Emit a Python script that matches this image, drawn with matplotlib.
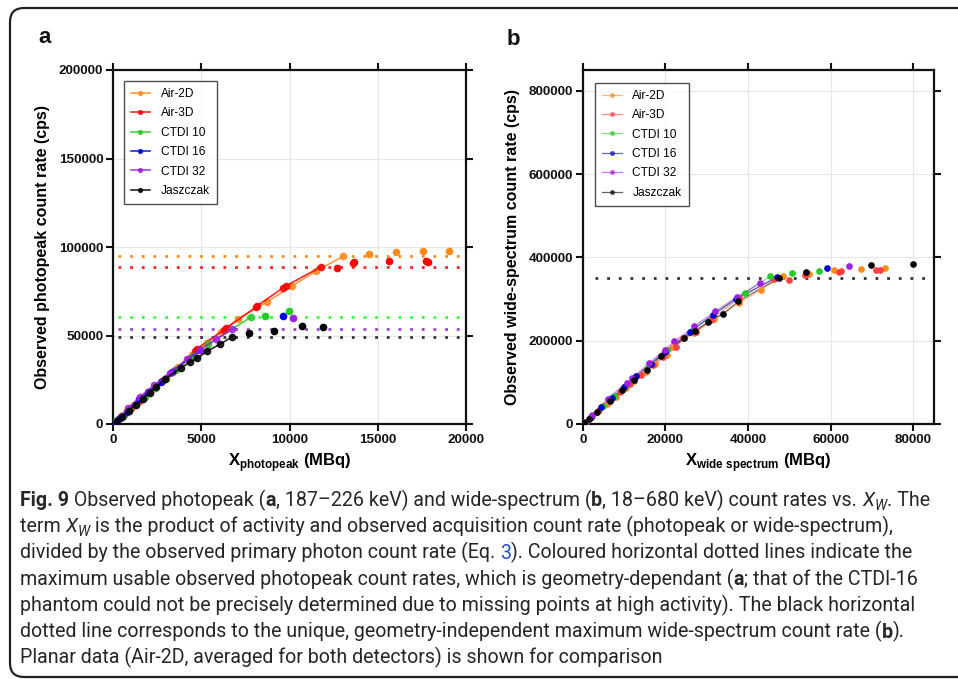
import numpy as np
import matplotlib
matplotlib.use("Agg")
import matplotlib.pyplot as plt
from matplotlib import font_manager as fm
from matplotlib.patches import FancyBboxPatch
from matplotlib.transforms import IdentityTransform
from matplotlib.lines import Line2D

# ---------------- data ----------------
series_names = ["Air-2D", "Air-3D", "CTDI 10", "CTDI 16", "CTDI 32", "Jaszczak"]

# panel a: photopeak (connected points, then saturated points)
a_air2d_x = [90, 250, 480, 800, 1200, 1700, 2300, 3000, 3700, 4500, 5300, 6100, 7100, 8700, 10150, 11500, 13050]
a_air2d_y = [800, 2200, 4250, 7100, 10600, 15000, 20200, 26200, 32200, 38900, 45500, 51800, 59500, 68900, 78000, 86400, 94750]
a_air2d_sx = [14500, 16050, 17580, 19020]
a_air2d_sy = [95900, 97200, 97700, 97500]

a_air3d_x = [150, 500, 1000, 1500, 2100, 2800, 3500, 4630, 4740, 6290, 6400, 8085, 8180, 9650, 9800, 11770]
a_air3d_y = [1300, 4400, 8800, 13200, 18400, 24400, 30400, 41200, 42400, 53300, 54100, 65900, 66900, 77000, 78000, 88700]
a_air3d_sx = [12690, 13600, 13650, 15620, 17740, 17870]
a_air3d_sy = [87960, 90700, 91700, 91900, 92300, 91500]

a_ctdi10_x = [100, 300, 600, 900, 1300, 1800, 2400, 3000, 3600, 4550, 5400, 7800]
a_ctdi10_y = [850, 2600, 5200, 7800, 11200, 15500, 20600, 25700, 30900, 38400, 45000, 60300]
a_ctdi10_sx = [8610, 9955]
a_ctdi10_sy = [61000, 63850]

a_ctdi16_x = [150, 400, 800, 1490, 2000, 2700, 3325, 4930]
a_ctdi16_y = [1300, 3500, 7000, 13950, 18000, 23500, 29500, 41800]
a_ctdi16_sx = [9615]
a_ctdi16_sy = [61200]

a_ctdi32_x = [200, 500, 867, 1530, 2340, 3230, 4210, 4930, 5836, 6760]
a_ctdi32_y = [1800, 4500, 9040, 15440, 21860, 29000, 36550, 42000, 47850, 53500]
a_ctdi32_sx = [10215]
a_ctdi32_sy = [60060]

a_jas_x = [200, 500, 900, 1300, 1700, 2100, 2419, 2946, 3853, 4363, 4777, 5310, 6063, 6760]
a_jas_y = [1700, 4200, 7600, 11000, 14300, 17700, 20720, 25250, 31810, 34860, 37120, 41070, 45030, 49330]
a_jas_sx = [7706, 9105, 10690, 11920]
a_jas_sy = [51590, 52720, 55370, 54980]

a_max_rates = [95000, 88700, 60500, 53500, 49200]   # Air-2D, Air-3D, CTDI10, CTDI32, Jaszczak
a_max_names = ["Air-2D", "Air-3D", "CTDI 10", "CTDI 32", "Jaszczak"]

# panel b: wide spectrum
b_air2d_x = [600, 1800, 3500, 5800, 8000, 10500, 12500, 15300, 17500, 20300, 21930, 27000, 31850, 37800, 43100, 48500]
b_air2d_y = [5000, 15000, 29000, 48000, 66000, 86500, 103000, 125500, 143000, 165500, 184600, 218000, 252000, 290000, 322000, 355000]
b_air2d_sx = [54840, 60890, 67270, 73080]
b_air2d_sy = [360000, 369000, 372000, 374000]

b_air3d_x = [700, 2000, 4000, 6500, 9000, 11500, 14000, 17000, 19500, 22500, 24200, 27500, 31000, 37900, 46200]
b_air3d_y = [6000, 17200, 34000, 55000, 76000, 96500, 117000, 141000, 161000, 184000, 205300, 222000, 250000, 302500, 349000]
b_air3d_sx = [50000, 53800, 54000, 62000, 62500, 71000, 72000]
b_air3d_sy = [346600, 358000, 362000, 366000, 366500, 369000, 369000]

b_ctdi10_x = [500, 2200, 4800, 7500, 10300, 13000, 16000, 20500, 26500, 31610, 39280, 45330]
b_ctdi10_y = [4500, 19500, 43000, 66500, 91000, 114500, 140500, 178000, 224000, 262400, 314600, 354600]
b_ctdi10_sx = [50720, 57190]
b_ctdi10_sy = [363400, 367000]

b_ctdi16_x = [400, 2000, 4500, 7000, 10000, 13000, 16500, 20000, 26000, 31500, 37000, 47000]
b_ctdi16_y = [3600, 18000, 40500, 62500, 89000, 115000, 145000, 174000, 222000, 262000, 300000, 352000]
b_ctdi16_sx = [59200]
b_ctdi16_sy = [375000]

b_ctdi32_x = [600, 2300, 6050, 10650, 12000, 16120, 19800, 22170, 27000, 32090, 37270, 42900]
b_ctdi32_y = [5500, 21500, 61000, 99400, 111000, 146100, 178000, 198100, 234200, 270300, 305000, 338600]
b_ctdi32_sx = [64520]
b_ctdi32_sy = [379000]

b_jas_x = [300, 1500, 3500, 6500, 9500, 12500, 15500, 18950, 24500, 27180, 30400, 34030, 37660, 47500]
b_jas_y = [2600, 13000, 30000, 55500, 80500, 105500, 130000, 163000, 206000, 223900, 245000, 264800, 294400, 350700]
b_jas_sx = [54000, 69850, 80000]
b_jas_sy = [364000, 382000, 385000]

b_max_rate = 350000

a_xticks = [0, 5000, 10000, 15000, 20000]
a_yticks = [0, 50000, 100000, 150000, 200000]
b_xticks = [0, 20000, 40000, 60000, 80000]
b_yticks = [0, 200000, 400000, 600000, 800000]

# ---------------- fonts ----------------
def has_font(name):
    try:
        fm.findfont(fm.FontProperties(family=name), fallback_to_default=False)
        return True
    except Exception:
        return False

SANS = "Liberation Sans" if has_font("Liberation Sans") else "DejaVu Sans"
CAPFAM = "Roboto" if has_font("Roboto") else ("Open Sans" if has_font("Open Sans") else SANS)
CAP_REG = fm.FontProperties(family=CAPFAM, weight="normal")
CAP_BOLD = fm.FontProperties(family=CAPFAM, weight="bold")
CAP_ITAL = fm.FontProperties(family=CAPFAM, style="italic", weight="normal")

plt.rcParams["font.family"] = [SANS, "DejaVu Sans"]
plt.rcParams["mathtext.fontset"] = "custom"
plt.rcParams["mathtext.bf"] = SANS + ":bold"
plt.rcParams["mathtext.rm"] = SANS

colors_a = {"Air-2D": "#FF8A1C", "Air-3D": "#FF0000", "CTDI 10": "#22CC22",
            "CTDI 16": "#0000EE", "CTDI 32": "#A020E0", "Jaszczak": "#000000"}
colors_b = {"Air-2D": "#FF8A1C", "Air-3D": "#FF4040", "CTDI 10": "#22CC22",
            "CTDI 16": "#0000CC", "CTDI 32": "#A020E0", "Jaszczak": "#000000"}
dot_colors = {"Air-2D": "#FF8A1C", "Air-3D": "#FF2020", "CTDI 10": "#33FF33",
              "CTDI 32": "#A040D0", "Jaszczak": "#333333"}

W, H = 958, 679
fig = plt.figure(figsize=(W / 100, H / 100), dpi=100)
fig.patch.set_facecolor("white")


def fx(px):
    return px / W


def fy(py):
    return 1 - py / H


# border
border = FancyBboxPatch((10, 2), 975, 669, boxstyle="round,pad=0,rounding_size=14",
                        transform=IdentityTransform(), fill=False, edgecolor="#222222",
                        linewidth=1.6, zorder=0)
fig.patches.append(border)

ax_a = fig.add_axes([fx(113), fy(424), fx(466) - fx(113), fy(70) - fy(424)])
ax_b = fig.add_axes([fx(582.7), fy(424), fx(934) - fx(582.7), fy(70) - fy(424)])

a_data = [
    (a_air2d_x, a_air2d_y, a_air2d_sx, a_air2d_sy),
    (a_air3d_x, a_air3d_y, a_air3d_sx, a_air3d_sy),
    (a_ctdi10_x, a_ctdi10_y, a_ctdi10_sx, a_ctdi10_sy),
    (a_ctdi16_x, a_ctdi16_y, a_ctdi16_sx, a_ctdi16_sy),
    (a_ctdi32_x, a_ctdi32_y, a_ctdi32_sx, a_ctdi32_sy),
    (a_jas_x, a_jas_y, a_jas_sx, a_jas_sy),
]
b_data = [
    (b_air2d_x, b_air2d_y, b_air2d_sx, b_air2d_sy),
    (b_air3d_x, b_air3d_y, b_air3d_sx, b_air3d_sy),
    (b_ctdi10_x, b_ctdi10_y, b_ctdi10_sx, b_ctdi10_sy),
    (b_ctdi16_x, b_ctdi16_y, b_ctdi16_sx, b_ctdi16_sy),
    (b_ctdi32_x, b_ctdi32_y, b_ctdi32_sx, b_ctdi32_sy),
    (b_jas_x, b_jas_y, b_jas_sx, b_jas_sy),
]


def style_axes(ax, xlim, ylim, xticks, yticks):
    ax.set_xlim(*xlim)
    ax.set_ylim(*ylim)
    ax.set_xticks(xticks)
    ax.set_yticks(yticks)
    ax.set_xticklabels([str(v) for v in xticks])
    ax.set_yticklabels([str(v) for v in yticks])
    ax.grid(True, color="#E6E6E6", linewidth=0.8, zorder=0)
    ax.set_axisbelow(True)
    for s in ax.spines.values():
        s.set_linewidth(1.6)
        s.set_color("#111111")
    ax.tick_params(direction="out", length=5, width=1.5, top=True, right=True,
                   labelsize=9.7, pad=2, colors="#111111")
    for lab in ax.get_xticklabels() + ax.get_yticklabels():
        lab.set_fontweight("bold")


# panel a
style_axes(ax_a, (0, 20000), (0, 200000), a_xticks, a_yticks)
for name, val in zip(a_max_names, a_max_rates):
    ax_a.plot([300, 20000], [val, val], linestyle=(0, (1, 3.2)), color=dot_colors[name],
              linewidth=2.0, zorder=2)
for name, (x, y, sx, sy) in zip(series_names, a_data):
    c = colors_a[name]
    ax_a.plot([0] + x, [0] + y, color=c, linewidth=1.2, alpha=0.85, zorder=3, label=name,
              marker="o", markersize=4.5, markevery=list(range(1, len(x) + 1)),
              markerfacecolor=c, markeredgecolor=c)
    ax_a.plot(sx, sy, linestyle="none", marker="o", markersize=4.5, color=c, zorder=3)

leg_a = ax_a.legend(loc="upper left", fontsize=8.6, frameon=True, fancybox=False,
                    edgecolor="#222222", handlelength=1.6, handletextpad=0.9,
                    labelspacing=0.62, borderaxespad=0.9, borderpad=0.6, numpoints=1,
                    markerscale=0.6)
leg_a.get_frame().set_linewidth(1.0)

ax_a.set_xlabel(r"$\mathbf{X}_{\mathbf{photopeak}}$ (MBq)", fontsize=12, fontweight="bold", labelpad=4)
ax_a.set_ylabel("Observed photopeak count rate (cps)", fontsize=11.5, fontweight="bold", labelpad=6)

# panel b
style_axes(ax_b, (0, 85000), (0, 850000), b_xticks, b_yticks)
ax_b.plot([3000, 85000], [b_max_rate, b_max_rate], linestyle=(0, (1, 3.2)), color="#333333",
          linewidth=2.0, zorder=2)
for name, (x, y, sx, sy) in zip(series_names, b_data):
    c = colors_b[name]
    ax_b.plot([0] + x, [0] + y, color=c, linewidth=0.9, alpha=0.55, zorder=3, label=name)
    ax_b.plot(x, y, linestyle="none", marker="o", markersize=3.8, color=c, zorder=4)
    ax_b.plot(sx, sy, linestyle="none", marker="o", markersize=3.8, color=c, zorder=4)

handles_b = [Line2D([0], [0], color=colors_b[n], linewidth=0.9, marker="o",
                    markersize=2.6, markerfacecolor=colors_b[n], markeredgecolor=colors_b[n])
             for n in series_names]
for h in handles_b:
    h.set_alpha(0.6)
leg_b = ax_b.legend(handles_b, series_names, loc="upper left", fontsize=8.6, frameon=True,
                    fancybox=False, edgecolor="#222222", handlelength=1.6, handletextpad=0.9,
                    labelspacing=0.62, borderaxespad=1.05, borderpad=0.6, numpoints=1)
leg_b.get_frame().set_linewidth(1.0)

ax_b.set_xlabel(r"$\mathbf{X}_{\mathbf{wide\ spectrum}}$ (MBq)", fontsize=12, fontweight="bold", labelpad=4)
ax_b.set_ylabel("Observed wide-spectrum count rate (cps)", fontsize=11.5, fontweight="bold", labelpad=6)

# panel letters
fig.text(fx(38), fy(43), "a", fontsize=16, fontweight="bold", va="baseline", ha="left", color="#111111")
fig.text(fx(507), fy(45), "b", fontsize=16, fontweight="bold", va="baseline", ha="left", color="#111111")

# ---------------- caption ----------------
caption_lines = [
    [("Fig. 9", "b"), (" Observed photopeak (", "n"), ("a", "b"), (", 187–226 keV) and wide-spectrum (", "n"),
     ("b", "b"), (", 18–680 keV) count rates vs. ", "n"), ("X", "i"), ("W", "sub"), (". The", "n")],
    [("term ", "n"), ("X", "i"), ("W", "sub"),
     (" is the product of activity and observed acquisition count rate (photopeak or wide-spectrum),", "n")],
    [("divided by the observed primary photon count rate (Eq. ", "n"), ("3", "link"),
     ("). Coloured horizontal dotted lines indicate the", "n")],
    [("maximum usable observed photopeak count rates, which is geometry-dependant (", "n"), ("a", "b"),
     ("; that of the CTDI-16", "n")],
    [("phantom could not be precisely determined due to missing points at high activity). The black horizontal", "n")],
    [("dotted line corresponds to the unique, geometry-independent maximum wide-spectrum count rate (", "n"),
     ("b", "b"), (").", "n")],
    [("Planar data (Air-2D, averaged for both detectors) is shown for comparison", "n")],
]

renderer = fig.canvas.get_renderer()
CAP_COLOR = "#262626"


def draw_line(segs, x0, base, size, draw=True):
    x = x0
    arts = []
    for txt, kind in segs:
        yb = base
        color = CAP_COLOR
        if kind == "b":
            fp = CAP_BOLD.copy()
            fp.set_size(size)
        elif kind == "i":
            fp = CAP_ITAL.copy()
            fp.set_size(size)
        elif kind == "sub":
            fp = CAP_ITAL.copy()
            fp.set_size(size * 0.72)
            yb = base + size * 0.28
        else:
            fp = CAP_REG.copy()
            fp.set_size(size)
            if kind == "link":
                color = "#1F4FD8"
        t = fig.text(fx(x), fy(yb), txt, fontproperties=fp, color=color, va="baseline", ha="left")
        w = t.get_window_extent(renderer).width
        if kind == "i":
            w += 0.5
        x += w
        arts.append(t)
    if not draw:
        for t in arts:
            t.remove()
    return x - x0


# fit font size so that the first line spans ~20..928 px
size = 12.5
wid = draw_line(caption_lines[0], 20, 506, size, draw=False)
size = min(size * (908.0 / wid), 15.0)
for i, segs in enumerate(caption_lines):
    draw_line(segs, 20, 506 + 26.3 * i, size)

fig.savefig("out.png", dpi=100, facecolor="white")
